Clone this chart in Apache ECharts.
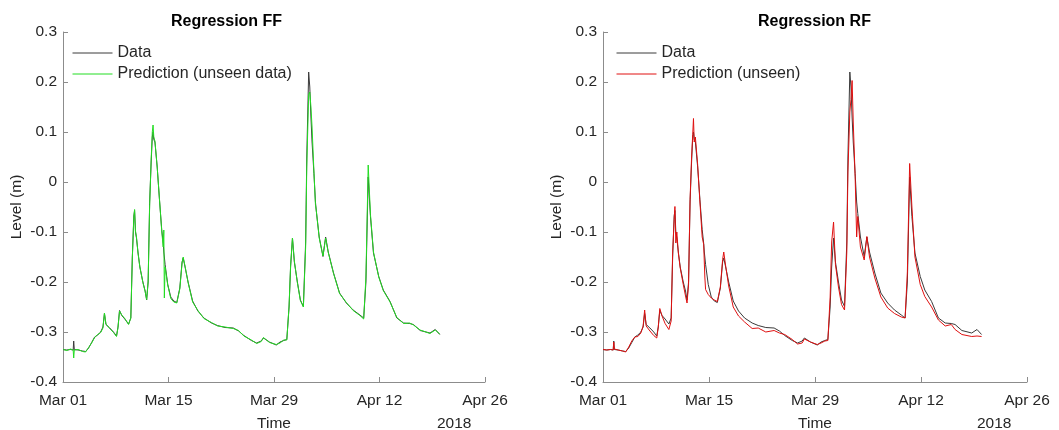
<!DOCTYPE html>
<html>
<head>
<meta charset="utf-8">
<script src="https://cdn.jsdelivr.net/npm/echarts@6/dist/echarts.min.js"></script>
<style>
html,body{margin:0;padding:0;background:#fff;}
#c{width:1059px;height:430px;}
</style>
</head>
<body>
<div id="c"></div>
<script>
// Days since Mar 01 2018
var days = [0.0,0.5,1.0,1.35,1.42,1.5,2.0,2.6,3.0,3.4,3.8,4.2,4.6,5.0,5.3,5.5,5.7,6.2,6.7,7.1,7.3,7.5,7.8,8.2,8.7,9.0,9.2,9.4,9.5,9.62,9.75,9.95,10.2,10.6,10.9,11.1,11.3,11.5,11.7,11.85,11.95,12.05,12.2,12.5,12.8,13.1,13.3,13.38,13.45,13.55,13.9,14.3,14.7,15.1,15.5,15.8,15.95,16.2,16.6,17.2,17.9,18.7,19.7,20.5,21.5,22.6,23.3,24.0,25.0,25.7,26.3,26.6,27.4,28.3,28.8,29.3,29.7,30.0,30.2,30.45,30.7,31.1,31.5,31.9,32.2,32.35,32.6,32.75,32.9,33.05,33.3,33.5,33.65,34.0,34.5,34.85,35.2,35.9,36.7,37.6,38.5,39.4,39.9,40.2,40.5,40.8,41.2,41.9,42.5,43.4,44.3,45.2,46.0,46.5,47.4,48.7,49.4,50.0];

var levelData = [-0.335,-0.336,-0.335,-0.336,-0.318,-0.335,-0.336,-0.338,-0.339,-0.332,-0.321,-0.310,-0.306,-0.300,-0.290,-0.263,-0.285,-0.292,-0.300,-0.308,-0.290,-0.257,-0.267,-0.274,-0.284,-0.272,-0.150,-0.068,-0.057,-0.100,-0.112,-0.140,-0.170,-0.200,-0.218,-0.236,-0.200,-0.040,0.040,0.090,0.100,0.085,0.080,0.030,-0.035,-0.095,-0.123,-0.140,-0.150,-0.165,-0.205,-0.230,-0.238,-0.241,-0.212,-0.160,-0.152,-0.170,-0.200,-0.238,-0.258,-0.272,-0.282,-0.287,-0.291,-0.292,-0.298,-0.307,-0.317,-0.322,-0.318,-0.312,-0.320,-0.326,-0.320,-0.317,-0.315,-0.250,-0.170,-0.112,-0.160,-0.200,-0.236,-0.249,-0.120,0.050,0.220,0.190,0.130,0.080,0.017,-0.040,-0.063,-0.110,-0.149,-0.110,-0.140,-0.182,-0.222,-0.242,-0.256,-0.266,-0.272,-0.200,0.010,-0.069,-0.142,-0.189,-0.216,-0.239,-0.272,-0.282,-0.283,-0.285,-0.297,-0.302,-0.295,-0.305];

var predFF = [-0.335,-0.337,-0.334,-0.336,-0.352,-0.336,-0.335,-0.339,-0.340,-0.331,-0.322,-0.311,-0.305,-0.301,-0.292,-0.262,-0.284,-0.293,-0.301,-0.309,-0.291,-0.258,-0.266,-0.273,-0.285,-0.272,-0.152,-0.070,-0.055,-0.098,-0.110,-0.142,-0.170,-0.201,-0.219,-0.235,-0.198,-0.045,0.045,0.100,0.114,0.090,0.082,0.030,-0.034,-0.098,-0.130,-0.096,-0.232,-0.170,-0.206,-0.233,-0.240,-0.242,-0.214,-0.162,-0.150,-0.169,-0.201,-0.240,-0.257,-0.273,-0.281,-0.288,-0.290,-0.293,-0.297,-0.308,-0.316,-0.323,-0.319,-0.311,-0.321,-0.325,-0.322,-0.316,-0.316,-0.248,-0.168,-0.112,-0.158,-0.201,-0.237,-0.250,-0.130,0.030,0.175,0.180,0.150,0.110,0.020,-0.045,-0.062,-0.112,-0.148,-0.112,-0.141,-0.183,-0.223,-0.241,-0.257,-0.267,-0.274,-0.190,0.034,-0.065,-0.140,-0.190,-0.217,-0.240,-0.271,-0.283,-0.282,-0.286,-0.296,-0.303,-0.296,-0.304];

var predRF = [-0.335,-0.336,-0.335,-0.336,-0.320,-0.334,-0.336,-0.338,-0.340,-0.330,-0.318,-0.310,-0.309,-0.302,-0.288,-0.256,-0.288,-0.298,-0.307,-0.312,-0.290,-0.253,-0.268,-0.283,-0.295,-0.278,-0.140,-0.075,-0.049,-0.122,-0.100,-0.142,-0.172,-0.205,-0.228,-0.242,-0.205,-0.035,0.050,0.095,0.127,0.080,0.090,0.035,-0.040,-0.110,-0.125,-0.160,-0.190,-0.215,-0.225,-0.232,-0.236,-0.239,-0.210,-0.155,-0.140,-0.168,-0.208,-0.250,-0.268,-0.280,-0.293,-0.292,-0.300,-0.297,-0.302,-0.305,-0.315,-0.324,-0.322,-0.314,-0.320,-0.325,-0.322,-0.318,-0.317,-0.230,-0.120,-0.080,-0.165,-0.210,-0.245,-0.256,-0.140,0.020,0.140,0.165,0.203,0.120,0.011,-0.110,-0.069,-0.130,-0.156,-0.109,-0.150,-0.192,-0.230,-0.252,-0.263,-0.270,-0.272,-0.180,0.037,-0.050,-0.150,-0.205,-0.229,-0.250,-0.276,-0.288,-0.285,-0.295,-0.305,-0.309,-0.308,-0.309];

var xTickLabels = ['Mar 01','Mar 15','Mar 29','Apr 12','Apr 26'];
var yTickLabels = ['-0.4','-0.3','-0.2','-0.1','0','0.1','0.2','0.3'];

function pairs(vals){ return days.map(function(d,i){ return [d, vals[i]]; }); }

var FONT = 'Liberation Sans, Arial, Helvetica, sans-serif';
var AXC = '#8c8c8c';
var TXC = '#262626';

function xAx(gi){
  return {
    type:'value', gridIndex:gi, min:0, max:56, interval:14,
    name:'Time', nameLocation:'middle', nameGap:34,
    nameTextStyle:{color:TXC, fontSize:15.5, fontFamily:FONT},
    axisLine:{show:true, onZero:false, lineStyle:{color:AXC, width:1}},
    axisTick:{show:true, inside:true, length:5, lineStyle:{color:AXC}},
    splitLine:{show:false},
    axisLabel:{color:TXC, fontSize:15.5, fontFamily:FONT, margin:11,
      formatter:function(v){ return xTickLabels[Math.round(v/14)]; }}
  };
}
function yAx(gi){
  return {
    type:'value', gridIndex:gi, min:-0.4, max:0.3, interval:0.1,
    name:'Level (m)', nameLocation:'middle', nameGap:38, nameRotate:90,
    nameTextStyle:{color:TXC, fontSize:15.5, fontFamily:FONT},
    axisLine:{show:true, onZero:false, lineStyle:{color:AXC, width:1}},
    axisTick:{show:true, inside:true, length:5, lineStyle:{color:AXC}},
    splitLine:{show:false},
    axisLabel:{color:TXC, fontSize:15.5, fontFamily:FONT, margin:6,
      formatter:function(v){ return yTickLabels[Math.round((v+0.4)*10)]; }}
  };
}
function line(name, vals, color, gi){
  return {
    type:'line', name:name, xAxisIndex:gi, yAxisIndex:gi, data:pairs(vals),
    symbol:'none', showSymbol:false, lineStyle:{color:color, width:1}, itemStyle:{color:color},
    emphasis:{disabled:true}, animation:false
  };
}

var chart = echarts.init(document.getElementById('c'), null, {renderer:'canvas'});
chart.setOption({
  backgroundColor:'#fff',
  animation:false,
  title:[
    {text:'Regression FF', left:171, top:14, padding:0, textStyle:{fontSize:16, fontWeight:'bold', color:'#000', fontFamily:FONT}},
    {text:'Regression RF', left:758, top:14, padding:0, textStyle:{fontSize:16, fontWeight:'bold', color:'#000', fontFamily:FONT}}
  ],
  grid:[
    {left:63, right:574, top:32, bottom:48, outerBoundsMode:'none', containLabel:false},
    {left:603, right:32, top:32, bottom:48, outerBoundsMode:'none', containLabel:false}
  ],
  legend:[
    {orient:'vertical', left:72, top:45, padding:0, itemWidth:40, itemHeight:14, itemGap:5,
     data:['Data','Prediction (unseen data)'], selectedMode:false,
     itemStyle:{opacity:0}, lineStyle:{width:1},
     textStyle:{fontSize:16, color:TXC, fontFamily:FONT}},
    {orient:'vertical', left:616, top:45, padding:0, itemWidth:40, itemHeight:14, itemGap:5,
     data:['Data','Prediction (unseen)'], selectedMode:false,
     itemStyle:{opacity:0}, lineStyle:{width:1},
     textStyle:{fontSize:16, color:TXC, fontFamily:FONT}}
  ],
  xAxis:[xAx(0), xAx(1)],
  yAxis:[yAx(0), yAx(1)],
  series:[
    line('Data', levelData, '#3a3a3a', 0),
    line('Prediction (unseen data)', predFF, '#22dd22', 0),
    line('Data', levelData, '#3a3a3a', 1),
    line('Prediction (unseen)', predRF, '#e01010', 1)
  ],
  graphic:[
    {type:'text', left:437, top:416, style:{text:'2018', fill:TXC, font:'15.5px '+FONT}},
    {type:'text', left:977, top:416, style:{text:'2018', fill:TXC, font:'15.5px '+FONT}}
  ]
});
</script>
</body>
</html>
